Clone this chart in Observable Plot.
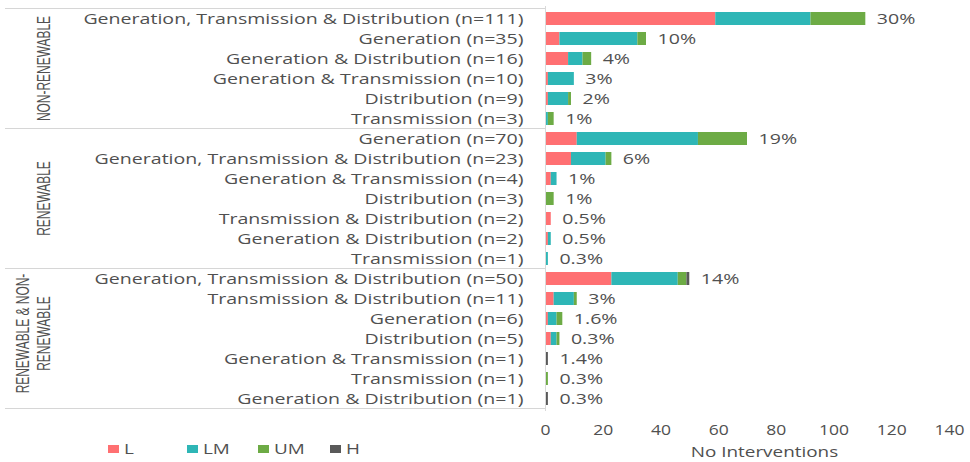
<!DOCTYPE html>
<html>
<head>
<meta charset="utf-8">
<script src="https://cdn.jsdelivr.net/npm/d3@7"></script>
<script src="https://cdn.jsdelivr.net/npm/@observablehq/plot@0.6"></script>
<style>
  html, body { margin: 0; padding: 0; background: #fff; }
  #wrap { position: relative; width: 970px; height: 462px; overflow: hidden; }
  .legend { position: absolute; top: 440px; left: 0; width: 420px; height: 20px;
    font-family: 'Open Sans', sans-serif; font-size: 14px; color: #505050; }
  .legend .sw { position: absolute; top: 5px; width: 11px; height: 8px; }
  .legend .tx { position: absolute; top: 0; line-height: 18px; transform: scaleX(1.35); transform-origin: 0 50%; white-space: nowrap; }
</style>
</head>
<body>
<div id="wrap"></div>
<script>
const groups = ["NON-RENEWABLE", "RENEWABLE", "RENEWABLE & NON-RENEWABLE"];
const groupLines = [["NON-RENEWABLE"], ["RENEWABLE"], ["RENEWABLE & NON-", "RENEWABLE"]];
const rowGroup = [0,0,0,0,0,0, 1,1,1,1,1,1,1, 2,2,2,2,2,2,2];
const rowLabels = [
  "Generation, Transmission & Distribution (n=111)",
  "Generation (n=35)",
  "Generation & Distribution (n=16)",
  "Generation & Transmission (n=10)",
  "Distribution (n=9)",
  "Transmission (n=3)",
  "Generation (n=70)",
  "Generation, Transmission & Distribution (n=23)",
  "Generation & Transmission (n=4)",
  "Distribution (n=3)",
  "Transmission & Distribution (n=2)",
  "Generation & Distribution (n=2)",
  "Transmission (n=1)",
  "Generation, Transmission & Distribution (n=50)",
  "Transmission & Distribution (n=11)",
  "Generation (n=6)",
  "Distribution (n=5)",
  "Generation & Transmission (n=1)",
  "Transmission (n=1)",
  "Generation & Distribution (n=1)"
];
const seriesNames = ["L", "LM", "UM", "H"];
const seriesColors = ["#FF7072", "#2EB6B6", "#6DAB45", "#595959"];
const L  = [59, 5, 8, 1, 1, 0,  11, 9, 2, 0, 2, 1, 0,  23, 3, 1, 2, 0, 0, 0];
const LM = [33,27, 5, 9, 7, 1,  42,12, 2, 0, 0, 1, 1,  23, 7, 3, 2, 0, 0, 0];
const UM = [19, 3, 3, 0, 1, 2,  17, 2, 0, 3, 0, 0, 0,   3, 1, 2, 1, 0, 1, 0];
const H  = [ 0, 0, 0, 0, 0, 0,   0, 0, 0, 0, 0, 0, 0,   1, 0, 0, 0, 1, 0, 1];
const pctLabels = ["30%","10%","4%","3%","2%","1%","19%","6%","1%","1%","0.5%","0.5%","0.3%","14%","3%","1.6%","0.3%","1.4%","0.3%","0.3%"];
const xTicks = [0, 20, 40, 60, 80, 100, 120, 140];
const xLabel = "No Interventions";

const seriesVals = [L, LM, UM, H];
const keys = rowLabels.map((_, i) => String(i));
const long = [];
keys.forEach((k, i) => seriesNames.forEach((s, j) => {
  if (seriesVals[j][i] > 0) long.push({key: k, series: s, value: seriesVals[j][i]});
}));
const totals = keys.map((k, i) => ({key: k, total: L[i] + LM[i] + UM[i] + H[i], label: pctLabels[i]}));

const textColor = "#505050";
const plot = Plot.plot({
  width: 970, height: 462,
  marginLeft: 545, marginRight: 21, marginTop: 6, marginBottom: 51,
  style: {fontFamily: "'Open Sans', sans-serif", fontSize: "14px", color: textColor, background: "#fff"},
  x: {domain: [0, 140], ticks: xTicks, label: null},
  y: {domain: keys, paddingInner: 0.33, paddingOuter: 0.165, label: null},
  color: {domain: seriesNames, range: seriesColors},
  marks: [
    Plot.barX(long, Plot.stackX({x: "value", y: "key", fill: "series", z: "series"})),
    Plot.ruleX([0], {stroke: "#d9d9d9", strokeWidth: 1}),
    Plot.text(totals, {x: "total", y: "key", text: "label", dx: 11, textAnchor: "start",
      fontSize: 14.5, fill: textColor, className: "stretch135"}),
    Plot.axisX({ticks: xTicks, tickSize: 0, tickPadding: 14, label: null,
      fontSize: 14, fill: textColor, className: "stretch125"}),
    Plot.axisY({tickSize: 0, tickPadding: 22, label: null, tickFormat: (d) => rowLabels[+d],
      fontSize: 14.5, fill: textColor, className: "stretch135"}),
    Plot.text([xLabel], {frameAnchor: "bottom", lineAnchor: "middle", dy: 41, dx: 17, fontSize: 14,
      fill: textColor, className: "stretch135"})
  ]
});
document.getElementById("wrap").appendChild(plot);

const svg = d3.select(plot);
// horizontally stretch text around its anchor (reference text is widened)
function stretch(sel, sx) {
  sel.each(function() {
    const bb = this.getBBox();
    const anchor = getComputedStyle(this).textAnchor || "start";
    const ax = anchor === "end" ? bb.x + bb.width : anchor === "middle" ? bb.x + bb.width / 2 : bb.x;
    const t = this.getAttribute("transform") || "";
    this.setAttribute("transform", `${t} translate(${ax},0) scale(${sx},1) translate(${-ax},0)`);
  });
}
stretch(svg.selectAll(".stretch135 text"), 1.35);
stretch(svg.selectAll(".stretch125 text"), 1.25);

// group separators and labels from the plot's y scale
const ys = plot.scale("y");
const bw = ys.bandwidth;
const step = ys.step;
const center = (k) => ys.apply(k) + bw / 2;
const boundaries = [];
for (let i = 0; i < keys.length; i++) {
  if (i === 0 || rowGroup[i] !== rowGroup[i - 1]) boundaries.push(center(keys[i]) - step / 2);
}
boundaries.push(center(keys[keys.length - 1]) + step / 2);
const g = svg.append("g");
boundaries.forEach(y => {
  g.append("line").attr("x1", 5).attr("x2", 545).attr("y1", y).attr("y2", y)
    .attr("stroke", "#d6d6d6").attr("stroke-width", 1);
});
groupLines.forEach((lines, gi) => {
  const idx = keys.filter((_, i) => rowGroup[i] === gi);
  const cy = (center(idx[0]) + center(idx[idx.length - 1])) / 2 + (gi === 2 ? -5 : 0);
  const xs = lines.length === 2 ? [22.5, 43.5] : [43.5];
  lines.forEach((t, li) => {
    g.append("text")
      .attr("transform", `translate(${xs[li]},${cy}) rotate(-90) scale(0.92,1.35)`)
      .attr("text-anchor", "middle").attr("dy", "0.36em")
      .attr("font-family", "'Liberation Sans', Arial, sans-serif")
      .attr("font-size", 13).attr("fill", textColor).text(t);
  });
});

// legend
const leg = document.createElement("div");
leg.className = "legend";
const legLeft = [108, 187, 258, 330];
seriesNames.forEach((s, i) => {
  const sw = document.createElement("span");
  sw.className = "sw";
  sw.style.left = legLeft[i] + "px";
  sw.style.background = seriesColors[i];
  const tx = document.createElement("span");
  tx.className = "tx";
  tx.style.left = (legLeft[i] + 16) + "px";
  tx.textContent = s;
  leg.appendChild(sw);
  leg.appendChild(tx);
});
document.getElementById("wrap").appendChild(leg);
</script>
</body>
</html>
